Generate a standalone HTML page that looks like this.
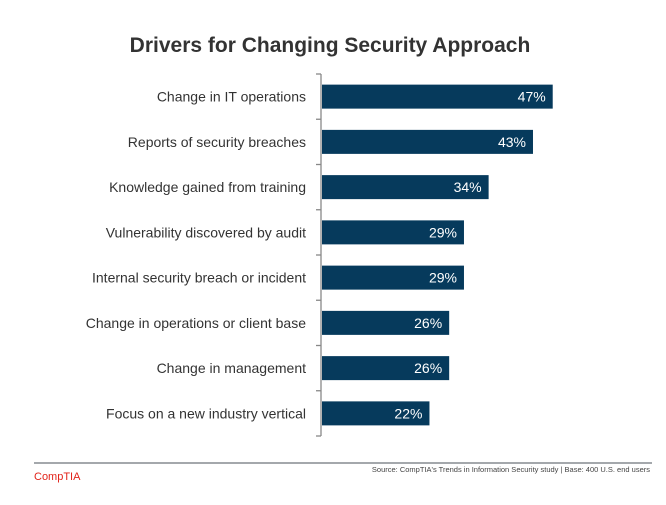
<!DOCTYPE html>
<html><head><meta charset="utf-8"><style>
body{margin:0;background:#fff;width:666px;height:500px;overflow:hidden;font-family:"Liberation Sans",sans-serif}
</style></head><body>
<svg width="666" height="500">
<text x="330" y="52" text-anchor="middle" font-size="21" font-weight="bold" fill="#333">Drivers for Changing Security Approach</text>
<g id="plot"></g>
<line x1="34" y1="463" x2="652" y2="463" stroke="#6d747b" stroke-width="1.2"/>
<text x="34" y="480" font-size="11" fill="#e2231a">CompTIA</text>
<text x="650" y="472" text-anchor="end" font-size="7.5" fill="#444">Source: CompTIA's Trends in Information Security study | Base: 400 U.S. end users</text>
</svg>
<script>
const categories=["Change in IT operations","Reports of security breaches","Knowledge gained from training","Vulnerability discovered by audit","Internal security breach or incident","Change in operations or client base","Change in management","Focus on a new industry vertical"];
const values=[47,43,34,29,29,26,26,22];
const valueLabels=["47%","43%","34%","29%","29%","26%","26%","22%"];
const NS="http://www.w3.org/2000/svg";
const plotG=document.getElementById('plot');
const x0=321,pxPer=4.93,plotTop=74,band=45.25;
const xs=v=>x0+v*pxPer;
const yb=i=>plotTop+i*band;
function mk(t,a){const e=document.createElementNS(NS,t);for(const k in a)e.setAttribute(k,a[k]);plotG.appendChild(e);return e;}
const ax=mk('line',{x1:x0,y1:plotTop,x2:x0,y2:plotTop+band*categories.length,stroke:'#888','stroke-width':1.3});


for(let i=0;i<=categories.length;i++){
 const t=mk('line',{x1:x0-5,y1:yb(i),x2:x0,y2:yb(i),stroke:'#888','stroke-width':1.3});
 
 
}
categories.forEach((c,i)=>{
 const cy=yb(i)+band/2;
 const r=mk('rect',{x:x0+1,y:cy-12,width:xs(values[i])-x0-1,height:24,fill:'#063a5c'});
 
 
 const l=mk('text',{x:306,y:cy+5,'text-anchor':'end','font-size':14,fill:'#333'});
 l.textContent=c;
 
 
 const v=mk('text',{x:xs(values[i])-7,y:cy+5,'text-anchor':'end','font-size':14,fill:'#fff'});
 v.textContent=valueLabels[i];
 
 
});
</script>
</body></html>
